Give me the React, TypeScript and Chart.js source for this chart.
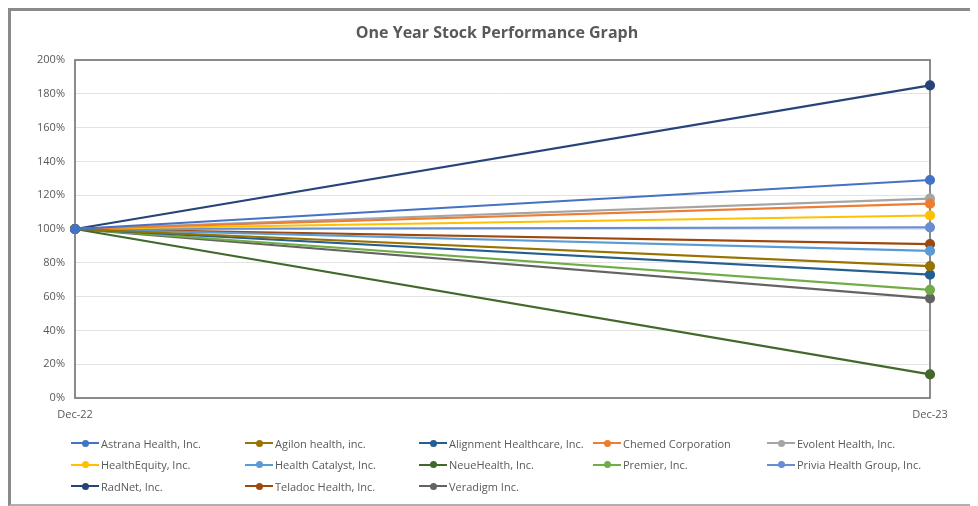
import React, { useEffect, useRef } from "react";
import { Chart, registerables } from "chart.js";

Chart.register(...registerables);

const periods = ["Dec-22", "Dec-23"];
const companies = [
  "Astrana Health, Inc.",
  "Agilon health, inc.",
  "Alignment Healthcare, Inc.",
  "Chemed Corporation",
  "Evolent Health, Inc.",
  "HealthEquity, Inc.",
  "Health Catalyst, Inc.",
  "NeueHealth, Inc.",
  "Premier, Inc.",
  "Privia Health Group, Inc.",
  "RadNet, Inc.",
  "Teladoc Health, Inc.",
  "Veradigm Inc.",
];
const startValues = [100, 100, 100, 100, 100, 100, 100, 100, 100, 100, 100, 100, 100];
const endValues = [129, 78, 73, 115, 118, 108, 87, 14, 64, 101, 185, 91, 59];
const colors = [
  "#4472C4",
  "#997300",
  "#255E91",
  "#ED7D31",
  "#A5A5A5",
  "#FFC000",
  "#5B9BD5",
  "#43682B",
  "#70AD47",
  "#698ED0",
  "#264478",
  "#9E480E",
  "#636363",
];
const yTickLabels = ["0%", "20%", "40%", "60%", "80%", "100%", "120%", "140%", "160%", "180%", "200%"];
const title = "One Year Stock Performance Graph";

const FONT = "'Open Sans', 'Noto Sans', sans-serif";
const TEXT = "#595959";

const boxPlugin = {
  id: "plotBox",
  beforeDatasetsDraw(chart: any) {
    const { ctx, chartArea } = chart;
    ctx.save();
    ctx.strokeStyle = "#7f7f7f";
    ctx.lineWidth = 1.8;
    ctx.strokeRect(chartArea.left, chartArea.top, chartArea.right - chartArea.left, chartArea.bottom - chartArea.top);
    ctx.restore();
  },
};

export default function App() {
  const canvasRef = useRef<HTMLCanvasElement | null>(null);

  useEffect(() => {
    if (!canvasRef.current) return;
    const chart = new Chart(canvasRef.current, {
      type: "line",
      data: {
        labels: periods,
        datasets: companies.map((name, i) => ({
          label: name,
          data: [startValues[i], endValues[i]],
          borderColor: colors[i],
          backgroundColor: colors[i],
          pointBackgroundColor: colors[i],
          pointBorderColor: colors[i],
          borderWidth: 2.2,
          pointRadius: 4,
          tension: 0,
        })),
      },
      options: {
        animation: false,
        responsive: true,
        maintainAspectRatio: false,
        layout: { padding: { left: 0, right: 48, top: 49, bottom: 76 } },
        plugins: {
          legend: { display: false },
          tooltip: { enabled: false },
          title: { display: false },
        },
        scales: {
          x: {
            offset: false,
            grid: { display: false, drawTicks: false },
            border: { display: false },
            ticks: { color: TEXT, font: { family: FONT, size: 11 }, padding: 10, maxRotation: 0 },
            afterFit: (s: any) => {
              s.height = 30;
            },
          },
          y: {
            min: 0,
            max: 200,
            grid: { color: "#e3e3e3", lineWidth: 1, drawTicks: false },
            border: { display: false },
            ticks: {
              stepSize: 20,
              color: TEXT,
              font: { family: FONT, size: 11 },
              padding: 10,
              callback: (v: any) => yTickLabels[Math.round(Number(v) / 20)],
            },
            afterFit: (s: any) => {
              s.width = 64;
            },
          },
        },
      },
      plugins: [boxPlugin],
    });
    return () => chart.destroy();
  }, []);

  return (
    <div
      style={{
        position: "relative",
        width: 970,
        height: 498,
        boxSizing: "border-box",
        borderTop: "3px solid #8a8a8a",
        borderLeft: "3px solid #8a8a8a",
        borderBottom: "2px solid #b0b0b0",
        background: "#fff",
        overflow: "hidden",
      }}
    >
      <div style={{ position: "absolute", left: 0, top: 0, width: 967, height: 493 }}>
        <canvas ref={canvasRef} />
      </div>
      <div
        style={{
          position: "absolute",
          left: 497 - 11 - 250,
          width: 500,
          top: 31.5 - 11 - 12,
          height: 24,
          lineHeight: "24px",
          textAlign: "center",
          fontFamily: FONT,
          fontSize: 16,
          fontWeight: "bold",
          color: TEXT,
        }}
      >
        {title}
      </div>
      {companies.map((name, i) => {
        const col = i % 5;
        const row = Math.floor(i / 5);
        const x = 71 + col * 174 - 11;
        const y = 443 + row * 21.7 - 11;
        return (
          <div
            key={name}
            style={{
              position: "absolute",
              left: x,
              top: y - 9,
              height: 18,
              display: "flex",
              alignItems: "center",
              whiteSpace: "nowrap",
              fontFamily: FONT,
              fontSize: 11,
              color: TEXT,
            }}
          >
            <span style={{ position: "relative", width: 28, height: 8, display: "inline-block", marginRight: 2 }}>
              <span
                style={{ position: "absolute", left: 0, top: 3, width: 28, height: 2, background: colors[i] }}
              />
              <span
                style={{
                  position: "absolute",
                  left: 10.5,
                  top: 0.5,
                  width: 7,
                  height: 7,
                  borderRadius: "50%",
                  background: colors[i],
                }}
              />
            </span>
            {name}
          </div>
        );
      })}
    </div>
  );
}
